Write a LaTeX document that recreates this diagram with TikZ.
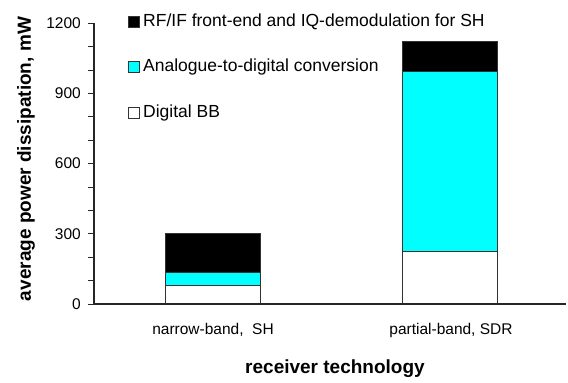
\documentclass[tikz,border=0pt]{standalone}
\usepackage{fontspec}
\setmainfont{Liberation Sans}
\definecolor{adccyan}{RGB}{0,255,255}
\begin{document}
\begin{tikzpicture}[x=1pt,y=-1pt,
  axisline/.style={line width=1.1pt,black!85},
  barpart/.style={draw=black!80,line width=0.9pt},
  ticklabel/.style={anchor=east,font=\fontsize{15.5}{17}\selectfont,inner sep=0pt},
  catlabel/.style={font=\fontsize{15.5}{17}\selectfont,inner sep=0pt},
  legendbox/.style={draw=black!80,line width=0.7pt,minimum size=11pt,inner sep=0pt},
  legendtext/.style={anchor=west,font=\fontsize{17.5}{19}\selectfont,inner sep=0pt},
  axistitle/.style={font=\bfseries\fontsize{19}{21}\selectfont,inner sep=0pt}]
\useasboundingbox (0,0) rectangle (568,383);
% value v sits at pixel row 304 - 0.234 v
\def\vy#1{\fpeval{304-0.234*(#1)}}
% bars: narrow-band
\filldraw[barpart,fill=white] (165.5,\vy{0}) rectangle (260.5,\vy{78});
\filldraw[barpart,fill=adccyan] (165.5,\vy{78}) rectangle (260.5,\vy{133});
\filldraw[barpart,fill=black] (165.5,\vy{133}) rectangle (260.5,\vy{300});
% bars: partial-band
\filldraw[barpart,fill=white] (402.5,\vy{0}) rectangle (497.5,\vy{225});
\filldraw[barpart,fill=adccyan] (402.5,\vy{225}) rectangle (497.5,\vy{993});
\filldraw[barpart,fill=black] (402.5,\vy{993}) rectangle (497.5,\vy{1123});
% axes
\draw[axisline] (94,\vy{1200}) -- (94,\vy{0}) -- (566,\vy{0});
\foreach \v in {0,100,...,1200}
  \draw[axisline,line width=0.9pt] (88,\vy{\v}) -- (94,\vy{\v});
\foreach \v in {0,300,600,900,1200}
  \node[ticklabel] (tick\v) at (81,\vy{\v}) {\v};
% category labels
\node[catlabel] (catA) at (213,330) {narrow-band,\ \ SH};
\node[catlabel] (catB) at (451,330) {partial-band, SDR};
% axis titles
\node[axistitle] (xtitle) at (335,369) {receiver technology};
\node[axistitle,rotate=90] (ytitle) at (26,159) {average power dissipation, mW};
% legend
\node[legendbox,fill=black] (legA) at (133.5,21.5) {};
\node[legendtext] (legAt) at (143,21.5) {RF/IF front-end and IQ-demodulation for SH};
\node[legendbox,fill=adccyan] (legB) at (133.5,67) {};
\node[legendtext] (legBt) at (143,67) {Analogue-to-digital conversion};
\node[legendbox,fill=white] (legC) at (133.5,112.5) {};
\node[legendtext] (legCt) at (143,112.5) {Digital BB};
\end{tikzpicture}
\end{document}
